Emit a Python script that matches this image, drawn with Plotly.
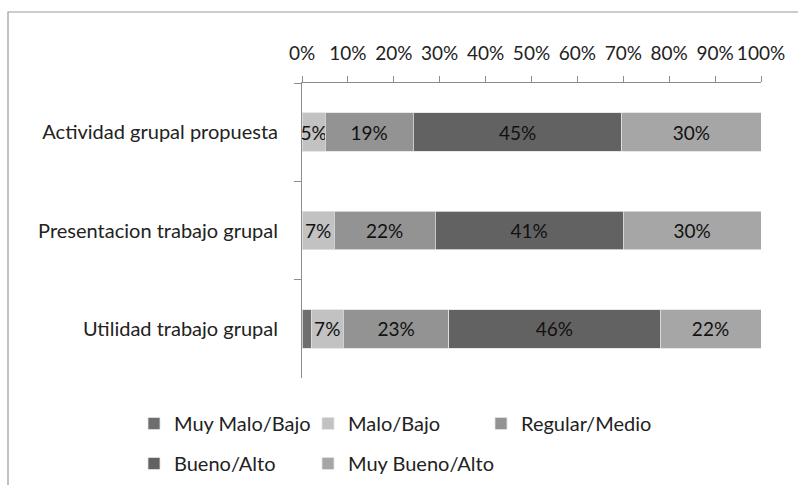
import plotly.graph_objects as go

categories = ["Actividad grupal propuesta", "Presentacion trabajo grupal", "Utilidad trabajo grupal"]
series_names = ["Muy Malo/Bajo", "Malo/Bajo", "Regular/Medio", "Bueno/Alto", "Muy Bueno/Alto"]
muy_malo = [0, 0, 2]
malo = [5, 7, 7]
regular = [19, 22, 23]
bueno = [45, 41, 46]
muy_bueno = [30, 30, 22]
series_values = [muy_malo, malo, regular, bueno, muy_bueno]
colors = ["#6e6e6e", "#c2c2c2", "#939393", "#626262", "#a6a6a6"]
legend_ids = ["legend", "legend2", "legend3", "legend", "legend2"]
x_ticks = list(range(0, 101, 10))

W, H = 798, 485
L, R, T, B = 302, 761, 83, 378


def px_x(p):
    return (p - L) / (R - L)


def px_y(p):
    return 1 - (p - T) / (B - T)


FONT = "Lato"
TXT = "#222222"

fig = go.Figure()
for name, vals, col, lg in zip(series_names, series_values, colors, legend_ids):
    fig.add_trace(go.Bar(
        y=categories, x=vals, name=name, orientation="h",
        marker=dict(color=col, line=dict(color="#e2e2e2", width=0.8)),
        text=[f"{v}%" if v >= 5 else "" for v in vals],
        textposition="inside", insidetextanchor="middle", textangle=0,
        textfont=dict(family=FONT, size=19, color="#111111"),
        legend=lg, legendgroup=name, hoverinfo="skip",
    ))

legend_common = dict(orientation="v", xanchor="left", yanchor="top",
                     font=dict(family=FONT, size=20, color=TXT),
                     bgcolor="rgba(0,0,0,0)", tracegroupgap=11, borderwidth=0)

fig.update_layout(
    width=W, height=H,
    margin=dict(l=L, r=W - R, t=T, b=H - B, pad=0, autoexpand=False),
    barmode="stack", barnorm="percent", bargap=0.61,
    plot_bgcolor="white", paper_bgcolor="white",
    font=dict(family=FONT, size=20, color=TXT),
    uniformtext=dict(minsize=19, mode="show"),
    xaxis=dict(side="top", range=[0, 100], tickvals=x_ticks,
               ticktext=[f"{t}%" for t in x_ticks], showgrid=False,
               showline=True, linecolor="#8c8c8c", linewidth=1,
               ticks="outside", ticklen=6, tickcolor="#8c8c8c",
               ticklabelstandoff=8, zeroline=False,
               tickfont=dict(family=FONT, size=19, color=TXT)),
    yaxis=dict(autorange="reversed", showgrid=False, showline=True,
               linecolor="#8c8c8c", linewidth=1, ticks="outside", ticklen=7,
               tickcolor="#8c8c8c", tickson="boundaries",
               ticklabelstandoff=19,
               tickfont=dict(family=FONT, size=20, color=TXT)),
    legend=dict(x=px_x(134), y=px_y(404), **legend_common),
    legend2=dict(x=px_x(308), y=px_y(404), **legend_common),
    legend3=dict(x=px_x(481), y=px_y(404), **legend_common),
    showlegend=True,
)

# outer frame of the chart area (left and top edges visible)
fig.add_shape(type="rect", xref="paper", yref="paper",
              x0=px_x(8), x1=px_x(820), y0=px_y(520), y1=px_y(12),
              line=dict(color="#9a9a9a", width=1.2), layer="below")

fig.write_html("out.html")
